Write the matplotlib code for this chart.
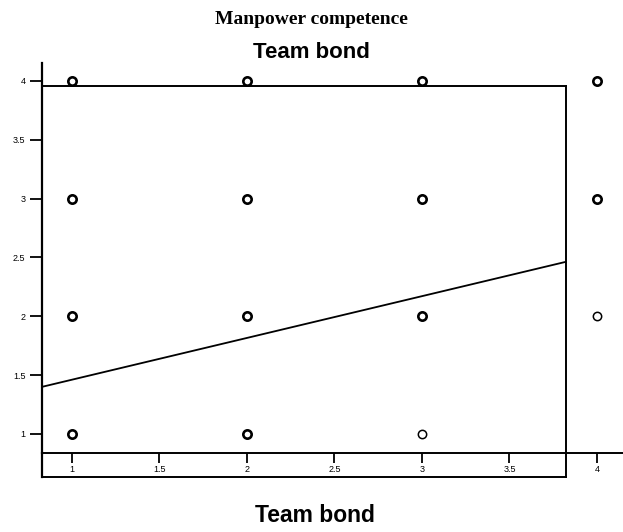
import matplotlib
matplotlib.use('Agg')
import matplotlib.pyplot as plt
import numpy as np

# scatter of ratings (1-4 scale) and the fitted line
team_x = [1, 1, 1, 1, 2, 2, 2, 2, 3, 3, 3, 3, 4, 4, 4]
team_y = [1, 2, 3, 4, 1, 2, 3, 4, 1, 2, 3, 4, 2, 3, 4]
repeats = [3, 3, 3, 3, 2, 3, 3, 2, 1, 3, 3, 3, 1, 2, 2]

fit_intercept = 1.106
fit_slope = 0.355

x_ticks = [1, 1.5, 2, 2.5, 3, 3.5, 4]
x_tick_labels = ['1', '1.5', '2', '2.5', '3', '3.5', '4']
y_ticks = [1, 1.5, 2, 2.5, 3, 3.5, 4]
y_tick_labels = ['1', '1.5', '2', '2.5', '3', '3.5', '4']

W, H = 623, 532
fig = plt.figure(figsize=(W / 100, H / 100), dpi=100)
ax = fig.add_axes([42 / W, (H - 453) / H, 581 / W, (453 - 63) / H])

xmin, xmax = 0.829, 4.149
ymin, ymax = 0.838, 4.153
ax.set_xlim(xmin, xmax)
ax.set_ylim(ymin, ymax)

# plot frame (inner box and the strip below the x axis)
box_top, box_right, box_bottom = 3.957, 3.823, 0.634
lw = 1.4
ax.plot([xmin, box_right], [box_top, box_top], color='black', lw=lw, clip_on=False)
ax.plot([box_right, box_right], [box_top, box_bottom], color='black', lw=lw, clip_on=False)
ax.plot([xmin, box_right], [box_bottom, box_bottom], color='black', lw=lw, clip_on=False)
ax.plot([xmin, xmin], [box_bottom, ymin], color='black', lw=1.6, clip_on=False)

# points; stacked duplicates get a heavier outline
for x, y, n in zip(team_x, team_y, repeats):
    ax.plot(x, y, 'o', ms=6, mfc='none', mec='black',
            mew=1.9 if n > 1 else 1.1, clip_on=False, zorder=3)

line_x = np.array([xmin, box_right])
ax.plot(line_x, fit_intercept + fit_slope * line_x, color='black', lw=1.3)

for s in ['top', 'right']:
    ax.spines[s].set_visible(False)
ax.spines['left'].set_linewidth(1.6)
ax.spines['bottom'].set_linewidth(1.4)

ax.set_xticks(x_ticks)
ax.set_xticklabels(x_tick_labels, fontsize=6.5, family='Liberation Sans')
ax.set_yticks(y_ticks)
ax.set_yticklabels(y_tick_labels, fontsize=6.5, family='Liberation Sans')
ax.tick_params(axis='x', direction='out', length=7, width=1.3, pad=2)
ax.tick_params(axis='y', direction='out', length=9, width=1.3, pad=3)

fig.text(0.5, 1 - 20 / H, 'Manpower competence', ha='center', va='center',
         fontsize=14, fontweight='bold', family='Liberation Serif')
fig.text(0.5, 1 - 52 / H, 'Team bond', ha='center', va='center',
         fontsize=16, fontweight='bold', family='Liberation Sans')
fig.text(315 / W, 1 - 515 / H, 'Team bond', ha='center', va='center',
         fontsize=16.5, fontweight='bold', family='Liberation Sans')

fig.savefig('out.png', dpi=100)
plt.close(fig)
